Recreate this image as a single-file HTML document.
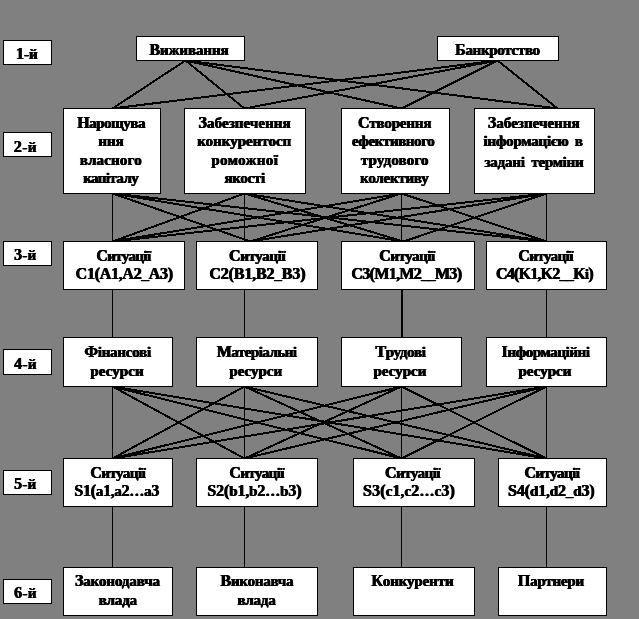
<!DOCTYPE html>
<html><head><meta charset="utf-8"><style>
html,body{margin:0;padding:0;}
body{width:639px;height:619px;background:#808080;position:relative;overflow:hidden;}
#w{position:absolute;left:0;top:0;width:639px;height:619px;filter:grayscale(1);}
svg{position:absolute;left:0;top:0;}
.b{position:absolute;box-sizing:border-box;background:#fff;border:1px solid #000;}
.t{position:absolute;font-family:"Liberation Serif",serif;font-weight:bold;font-size:15.0px;line-height:24px;color:#000;white-space:nowrap;text-shadow:0.5px 0 0 #000,-0.4px 0 0 #000;}
.u{font-size:16.0px;}
</style></head><body><div id="w">
<svg width="639" height="619" viewBox="0 0 639 619"><g stroke="#000" stroke-width="2" shape-rendering="crispEdges">
<line x1="185.5" y1="60.5" x2="112.5" y2="108.5"/>
<line x1="185.5" y1="60.5" x2="244.5" y2="108.5"/>
<line x1="185.5" y1="60.5" x2="401.5" y2="108.5"/>
<line x1="185.5" y1="60.5" x2="557.5" y2="108.5"/>
<line x1="497.5" y1="60.5" x2="112.5" y2="108.5"/>
<line x1="497.5" y1="60.5" x2="244.5" y2="108.5"/>
<line x1="497.5" y1="60.5" x2="401.5" y2="108.5"/>
<line x1="497.5" y1="60.5" x2="557.5" y2="108.5"/>
<line x1="112.5" y1="193.5" x2="112.5" y2="241.5" stroke-width="1"/>
<line x1="112.5" y1="193.5" x2="250.5" y2="241.5"/>
<line x1="112.5" y1="193.5" x2="403.5" y2="241.5"/>
<line x1="112.5" y1="193.5" x2="546.5" y2="241.5"/>
<line x1="244.5" y1="193.5" x2="112.5" y2="241.5"/>
<line x1="244.5" y1="193.5" x2="244.5" y2="241.5" stroke-width="1"/>
<line x1="244.5" y1="193.5" x2="403.5" y2="241.5"/>
<line x1="244.5" y1="193.5" x2="546.5" y2="241.5"/>
<line x1="401.5" y1="193.5" x2="112.5" y2="241.5"/>
<line x1="401.5" y1="193.5" x2="250.5" y2="241.5"/>
<line x1="401.5" y1="193.5" x2="401.5" y2="241.5" stroke-width="1"/>
<line x1="401.5" y1="193.5" x2="546.5" y2="241.5"/>
<line x1="546.5" y1="193.5" x2="112.5" y2="241.5"/>
<line x1="546.5" y1="193.5" x2="250.5" y2="241.5"/>
<line x1="546.5" y1="193.5" x2="403.5" y2="241.5"/>
<line x1="546.5" y1="193.5" x2="546.5" y2="241.5" stroke-width="1"/>
<line x1="112.5" y1="289.5" x2="112.5" y2="337.5" stroke-width="1"/>
<line x1="244.5" y1="289.5" x2="244.5" y2="337.5" stroke-width="1"/>
<line x1="546.5" y1="289.5" x2="546.5" y2="337.5" stroke-width="1"/>
<line x1="112.5" y1="386.5" x2="112.5" y2="458.5" stroke-width="1"/>
<line x1="112.5" y1="386.5" x2="244.5" y2="458.5"/>
<line x1="112.5" y1="386.5" x2="401.5" y2="458.5"/>
<line x1="112.5" y1="386.5" x2="546.5" y2="458.5"/>
<line x1="244.5" y1="386.5" x2="112.5" y2="458.5"/>
<line x1="244.5" y1="386.5" x2="244.5" y2="458.5" stroke-width="1"/>
<line x1="244.5" y1="386.5" x2="401.5" y2="458.5"/>
<line x1="244.5" y1="386.5" x2="546.5" y2="458.5"/>
<line x1="401.5" y1="386.5" x2="112.5" y2="458.5"/>
<line x1="401.5" y1="386.5" x2="244.5" y2="458.5"/>
<line x1="401.5" y1="386.5" x2="401.5" y2="458.5" stroke-width="1"/>
<line x1="401.5" y1="386.5" x2="546.5" y2="458.5"/>
<line x1="546.5" y1="386.5" x2="112.5" y2="458.5"/>
<line x1="546.5" y1="386.5" x2="244.5" y2="458.5"/>
<line x1="546.5" y1="386.5" x2="401.5" y2="458.5"/>
<line x1="546.5" y1="386.5" x2="546.5" y2="458.5" stroke-width="1"/>
<line x1="112.5" y1="506.5" x2="112.5" y2="567.5" stroke-width="1"/>
<line x1="244.5" y1="506.5" x2="244.5" y2="567.5" stroke-width="1"/>
<line x1="401.5" y1="506.5" x2="401.5" y2="567.5" stroke-width="1"/>
<line x1="546.5" y1="506.5" x2="546.5" y2="567.5" stroke-width="1"/>
</g><rect x="401" y="289" width="2" height="49" fill="#000"/></svg>
<div class="b" style="left:3px;top:40px;width:49px;height:25px"></div>
<div class="b" style="left:3px;top:132px;width:49px;height:25px"></div>
<div class="b" style="left:3px;top:241px;width:49px;height:25px"></div>
<div class="b" style="left:3px;top:349px;width:49px;height:26px"></div>
<div class="b" style="left:3px;top:470px;width:49px;height:25px"></div>
<div class="b" style="left:3px;top:579px;width:49px;height:25px"></div>
<div class="b" style="left:136px;top:36px;width:109px;height:25px"></div>
<div class="b" style="left:437px;top:36px;width:122px;height:25px"></div>
<div class="b" style="left:63px;top:108px;width:98px;height:86px"></div>
<div class="b" style="left:184px;top:108px;width:122px;height:86px"></div>
<div class="b" style="left:341px;top:108px;width:109px;height:86px"></div>
<div class="b" style="left:474px;top:108px;width:121px;height:86px"></div>
<div class="b" style="left:63px;top:241px;width:122px;height:49px"></div>
<div class="b" style="left:196px;top:241px;width:122px;height:49px"></div>
<div class="b" style="left:341px;top:241px;width:134px;height:49px"></div>
<div class="b" style="left:486px;top:241px;width:121px;height:49px"></div>
<div class="b" style="left:63px;top:337px;width:110px;height:50px"></div>
<div class="b" style="left:196px;top:337px;width:122px;height:50px"></div>
<div class="b" style="left:341px;top:337px;width:121px;height:50px"></div>
<div class="b" style="left:486px;top:337px;width:121px;height:50px"></div>
<div class="b" style="left:63px;top:458px;width:110px;height:49px"></div>
<div class="b" style="left:196px;top:458px;width:122px;height:49px"></div>
<div class="b" style="left:353px;top:458px;width:122px;height:49px"></div>
<div class="b" style="left:498px;top:458px;width:109px;height:49px"></div>
<div class="b" style="left:63px;top:567px;width:110px;height:49px"></div>
<div class="b" style="left:196px;top:567px;width:122px;height:49px"></div>
<div class="b" style="left:353px;top:567px;width:122px;height:49px"></div>
<div class="b" style="left:498px;top:567px;width:109px;height:49px"></div>
<div class="t" style="left:16.00px;top:42px;letter-spacing:0.000px"><span class="u">1</span>-й</div>
<div class="t" style="left:13.80px;top:135px;letter-spacing:0.500px"><span class="u">2</span>-й</div>
<div class="t" style="left:14.10px;top:243px;letter-spacing:0.250px"><span class="u">3</span>-й</div>
<div class="t" style="left:14.10px;top:352px;letter-spacing:0.350px"><span class="u">4</span>-й</div>
<div class="t" style="left:14.10px;top:472px;letter-spacing:0.250px"><span class="u">5</span>-й</div>
<div class="t" style="left:14.10px;top:581px;letter-spacing:0.350px"><span class="u">6</span>-й</div>
<div class="t" style="left:149.40px;top:38px;letter-spacing:-0.081px"><span class="u">В</span>иживання</div>
<div class="t" style="left:455.10px;top:38px;letter-spacing:-0.310px"><span class="u">Б</span>анкротство</div>
<div class="t" style="left:77.20px;top:111px;letter-spacing:-0.471px"><span class="u">Н</span>арощува</div>
<div class="t" style="left:98.30px;top:129px;letter-spacing:0.000px">ння</div>
<div class="t" style="left:79.80px;top:148px;letter-spacing:0.186px">власного</div>
<div class="t" style="left:83.20px;top:166px;letter-spacing:-0.586px">капіталу</div>
<div class="t" style="left:198.50px;top:111px;letter-spacing:0.064px"><span class="u">З</span>абезпечення</div>
<div class="t" style="left:197.20px;top:129px;letter-spacing:-0.009px">конкурентосп</div>
<div class="t" style="left:211.30px;top:148px;letter-spacing:0.386px">роможної</div>
<div class="t" style="left:224.40px;top:166px;letter-spacing:-0.320px">якості</div>
<div class="t" style="left:357.90px;top:111px;letter-spacing:-0.162px"><span class="u">С</span>творення</div>
<div class="t" style="left:352.00px;top:129px;letter-spacing:-0.400px">ефективного</div>
<div class="t" style="left:360.80px;top:148px;letter-spacing:0.163px">трудового</div>
<div class="t" style="left:360.10px;top:166px;letter-spacing:-0.250px">колективу</div>
<div class="t" style="left:487.80px;top:111px;letter-spacing:0.036px"><span class="u">З</span>абезпечення</div>
<div class="t" style="left:483.50px;top:129px;letter-spacing:-0.200px">інформацією</div>
<div class="t" style="left:574.80px;top:129px;letter-spacing:0.000px">в</div>
<div class="t" style="left:484.40px;top:150px;letter-spacing:-0.160px">задані</div>
<div class="t" style="left:531.30px;top:150px;letter-spacing:-0.258px">терміни</div>
<div class="t" style="left:96.30px;top:244px;letter-spacing:-0.629px"><span class="u">С</span>итуації</div>
<div class="t" style="left:75.60px;top:262px;letter-spacing:-0.245px"><span class="u">C1(A1</span>,<span class="u">A2</span>_<span class="u">A3)</span></div>
<div class="t" style="left:229.00px;top:244px;letter-spacing:-0.371px"><span class="u">С</span>итуації</div>
<div class="t" style="left:209.30px;top:262px;letter-spacing:-0.118px"><span class="u">C2(B1</span>,<span class="u">B2</span>_<span class="u">B3)</span></div>
<div class="t" style="left:379.20px;top:244px;letter-spacing:-0.457px"><span class="u">С</span>итуації</div>
<div class="t" style="left:351.30px;top:262px;letter-spacing:-0.625px"><span class="u">C3(M1</span>,<span class="u">M2</span>__<span class="u">M3)</span></div>
<div class="t" style="left:518.30px;top:244px;letter-spacing:-0.586px"><span class="u">С</span>итуації</div>
<div class="t" style="left:495.90px;top:262px;letter-spacing:-0.733px"><span class="u">C4(K1</span>,<span class="u">K2</span>__<span class="u">K</span>i<span class="u">)</span></div>
<div class="t" style="left:84.30px;top:340px;letter-spacing:-0.250px"><span class="u">Ф</span>інансові</div>
<div class="t" style="left:90.30px;top:359px;letter-spacing:0.083px">ресурси</div>
<div class="t" style="left:216.70px;top:340px;letter-spacing:-0.520px"><span class="u">М</span>атеріальні</div>
<div class="t" style="left:229.30px;top:359px;letter-spacing:0.017px">ресурси</div>
<div class="t" style="left:375.40px;top:340px;letter-spacing:-0.317px"><span class="u">Т</span>рудові</div>
<div class="t" style="left:373.50px;top:359px;letter-spacing:0.000px">ресурси</div>
<div class="t" style="left:501.60px;top:340px;letter-spacing:-0.391px"><span class="u">І</span>нформаційні</div>
<div class="t" style="left:518.50px;top:359px;letter-spacing:0.000px">ресурси</div>
<div class="t" style="left:90.30px;top:461px;letter-spacing:-0.529px"><span class="u">С</span>итуації</div>
<div class="t" style="left:74.30px;top:479px;letter-spacing:-0.250px"><span class="u">S1(</span>a<span class="u">1</span>,a<span class="u">2</span>…a<span class="u">3</span></div>
<div class="t" style="left:229.30px;top:461px;letter-spacing:-0.571px"><span class="u">С</span>итуації</div>
<div class="t" style="left:207.30px;top:479px;letter-spacing:-0.100px"><span class="u">S2(</span>b<span class="u">1</span>,b<span class="u">2</span>…b<span class="u">3)</span></div>
<div class="t" style="left:385.00px;top:461px;letter-spacing:-0.529px"><span class="u">С</span>итуації</div>
<div class="t" style="left:363.00px;top:479px;letter-spacing:0.136px"><span class="u">S3(</span>c<span class="u">1</span>,c<span class="u">2</span>…c<span class="u">3)</span></div>
<div class="t" style="left:524.40px;top:461px;letter-spacing:-0.529px"><span class="u">С</span>итуації</div>
<div class="t" style="left:508.00px;top:479px;letter-spacing:-0.109px"><span class="u">S4(</span>d<span class="u">1</span>,d<span class="u">2</span>_d<span class="u">3)</span></div>
<div class="t" style="left:74.90px;top:569px;letter-spacing:-0.110px"><span class="u">З</span>аконодавча</div>
<div class="t" style="left:98.70px;top:588px;letter-spacing:-0.125px">влада</div>
<div class="t" style="left:220.50px;top:569px;letter-spacing:-0.225px"><span class="u">В</span>иконавча</div>
<div class="t" style="left:237.40px;top:588px;letter-spacing:-0.125px">влада</div>
<div class="t" style="left:371.30px;top:569px;letter-spacing:-0.122px"><span class="u">К</span>онкуренти</div>
<div class="t" style="left:517.80px;top:569px;letter-spacing:-0.200px"><span class="u">П</span>артнери</div>
</div></body></html>
